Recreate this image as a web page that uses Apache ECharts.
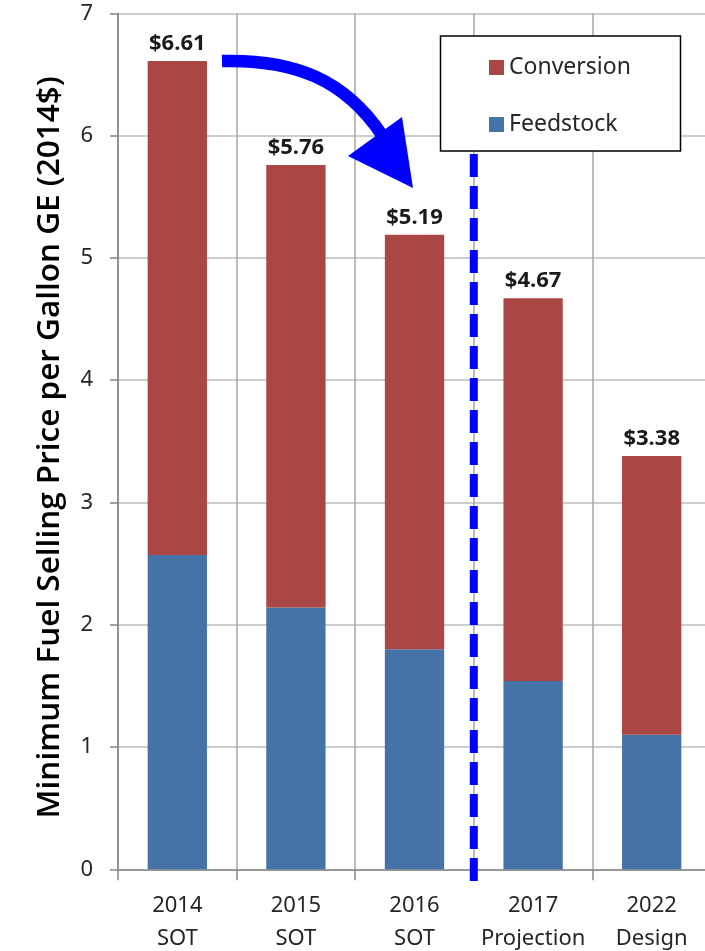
<!DOCTYPE html>
<html>
<head>
<meta charset="utf-8">
<title>Minimum Fuel Selling Price</title>
<script src="https://cdn.jsdelivr.net/npm/echarts@6/dist/echarts.min.js"></script>
<style>
  html, body { margin: 0; padding: 0; background: #ffffff; }
  #chart { width: 705px; height: 951px; }
</style>
</head>
<body>
<div id="chart"></div>
<script>
// Cost breakdown per gallon gasoline equivalent (2014$)
const categories = ['2014\nSOT', '2015\nSOT', '2016\nSOT', '2017\nProjection', '2022\nDesign'];
const feedstock = [2.57, 2.14, 1.80, 1.54, 1.10];
const conversion = [4.04, 3.62, 3.39, 3.13, 2.28];
const seriesNames = ['Conversion', 'Feedstock'];
const yMin = 0;
const yMax = 7;
const yStep = 1;

// Vertical divider between achieved (SOT) years and future targets,
// placed on a 0..5 scale spanning the five category slots.
const dividerX = [3, 3];
const dividerY = [-0.095, 5.87];

const totals = feedstock.map((f, i) => f + conversion[i]);

const chart = echarts.init(document.getElementById('chart'), null, { renderer: 'canvas' });

const textFont = 'Noto Sans';

chart.setOption({
  animation: false,
  backgroundColor: '#ffffff',
  // the plot runs slightly past the right edge of the canvas
  grid: { left: 118, width: 593, top: 13.3, bottom: 81.7, outerBoundsMode: 'none' },
  legend: {
    data: seriesNames,
    orient: 'vertical',
    left: 489,
    top: 56,
    padding: 0,
    itemWidth: 15,
    itemHeight: 15,
    itemGap: 34,
    icon: 'rect',
    z: 100,
    textStyle: { fontFamily: textFont, fontSize: 23, color: '#262626' }
  },
  xAxis: [
    {
      type: 'category',
      data: categories,
      axisLine: { lineStyle: { color: '#868686', width: 1.5 } },
      axisTick: { show: true, length: 11, lineStyle: { color: '#868686', width: 1.5 } },
      axisLabel: {
        interval: 0,
        hideOverlap: false,
        margin: 20,
        fontFamily: textFont,
        fontSize: 22,
        lineHeight: 33,
        color: '#262626'
      },
      splitLine: { show: true, lineStyle: { color: '#a6a6a6', width: 1.5 } }
    },
    { type: 'value', min: 0, max: 5, show: false }
  ],
  yAxis: {
    type: 'value',
    min: yMin,
    max: yMax,
    interval: yStep,
    name: 'Minimum Fuel Selling Price per Gallon GE (2014$)',
    nameLocation: 'middle',
    nameGap: 52,
    nameRotate: 90,
    nameTextStyle: {
      fontFamily: 'Open Sans',
      fontWeight: 600,
      fontSize: 31.5,
      color: '#000000',
      padding: [0, 12, 0, 0]
    },
    axisLine: { show: true, lineStyle: { color: '#868686', width: 1.5 } },
    axisTick: { show: true, length: 8, lineStyle: { color: '#868686', width: 1.5 } },
    axisLabel: { margin: 25, fontFamily: textFont, fontSize: 22, color: '#262626' },
    splitLine: { show: true, lineStyle: { color: '#cdcdcd', width: 2 } }
  },
  series: [
    {
      name: 'Feedstock',
      type: 'bar',
      stack: 'total',
      barWidth: '50%',
      itemStyle: { color: '#4572a7' },
      data: feedstock
    },
    {
      name: 'Conversion',
      type: 'bar',
      stack: 'total',
      barWidth: '50%',
      itemStyle: { color: '#aa4643' },
      label: {
        show: true,
        position: 'top',
        distance: 6,
        fontFamily: textFont,
        fontWeight: 'bold',
        fontSize: 22,
        color: '#1a1a1a',
        formatter: p => '$' + totals[p.dataIndex].toFixed(2)
      },
      data: conversion
    },
    {
      name: 'divider',
      type: 'line',
      xAxisIndex: 1,
      yAxisIndex: 0,
      clip: false,
      silent: true,
      symbol: 'none',
      z: 5,
      lineStyle: { color: '#0000ff', width: 8, type: [23, 9] },
      data: dividerX.map((x, i) => [x, dividerY[i]])
    }
  ],
  graphic: [
    {
      type: 'rect',
      z: 50,
      shape: { x: 440.5, y: 36, width: 240, height: 115 },
      style: { fill: '#ffffff', stroke: '#000000', lineWidth: 1.5 }
    },
    {
      type: 'bezierCurve',
      z: 60,
      shape: { x1: 222, y1: 61, cpx1: 295, cpy1: 59, cpx2: 345, cpy2: 80, x2: 382, y2: 135 },
      style: { stroke: '#0000ff', lineWidth: 12.5, fill: null, lineCap: 'butt' }
    },
    {
      type: 'polygon',
      z: 60,
      shape: { points: [[348, 156], [402, 117], [413, 188]] },
      style: { fill: '#0000ff' }
    }
  ]
});
</script>
</body>
</html>
